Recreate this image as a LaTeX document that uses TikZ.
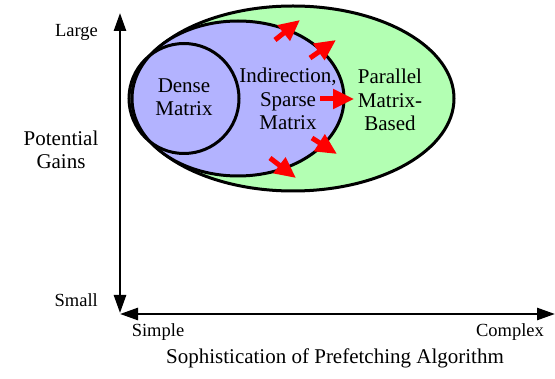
\documentclass[tikz,border=0pt]{standalone}
\usepackage{fontspec}
\setmainfont{Liberation Serif}
\newfontfamily\timesfont{Liberation Serif}
\usetikzlibrary{arrows.meta,shapes.geometric}
\definecolor{setgreen}{HTML}{B3FFB3}
\definecolor{setblue}{HTML}{B3B3FF}
\tikzset{
  region/.style={draw=black, line width=3pt},
  axis/.style={line width=2.6pt, {Triangle[length=18pt,width=12pt]}-{Triangle[length=18pt,width=12pt]}},
  growarrow/.style={draw=red, line width=5pt, -{Triangle[length=21pt,width=19pt]}, red},
  biglabel/.style={align=center, font=\timesfont\fontsize{21}{23.5}\selectfont, inner sep=0pt},
  smalllabel/.style={font=\timesfont\fontsize{18.5}{21}\selectfont, inner sep=0pt},
}
\begin{document}
\begin{tikzpicture}[x=1pt, y=-1pt]
\useasboundingbox (0,0) rectangle (555,379);

% nested regions
\fill[setgreen] (293,98.5) ellipse[x radius=161, y radius=92.5];
\draw[region] (293,98.5) ellipse[x radius=161, y radius=92.5];
\fill[setblue] (238,98.5) ellipse[x radius=106, y radius=77.5];
\draw[region] (238,98.5) ellipse[x radius=106, y radius=77.5];
\draw[region] (184,98.5) circle[radius=55];

\node[biglabel] (dense) at (184,97) {Dense\\Matrix};
\node[biglabel] (sparse) at (288,99) {Indirection,\\Sparse\\Matrix};
\node[biglabel] (parallel) at (390,100) {Parallel\\Matrix-\\Based};

% outward growth arrows
\coordinate (a1s) at (275,40);  \coordinate (a1e) at (300,20);
\coordinate (a2s) at (310,58);  \coordinate (a2e) at (336,40);
\coordinate (a3s) at (320,99);  \coordinate (a3e) at (354,99);
\coordinate (a4s) at (312,138); \coordinate (a4e) at (337,154);
\coordinate (a5s) at (270,158); \coordinate (a5e) at (296,178);
\draw[growarrow] (a1s) -- (a1e);
\draw[growarrow] (a2s) -- (a2e);
\draw[growarrow] (a3s) -- (a3e);
\draw[growarrow] (a4s) -- (a4e);
\draw[growarrow] (a5s) -- (a5e);

% axes
\coordinate (ytop) at (120,13);
\coordinate (ybot) at (120,313);
\coordinate (xleft) at (120,314);
\coordinate (xright) at (555,314);
\draw[axis] (ybot) -- (ytop);
\draw[axis] (xleft) -- (xright);

\node[smalllabel, anchor=east] (large) at (98,32) {Large};
\node[smalllabel, anchor=east] (small) at (98,300) {Small};
\node[biglabel] (gains) at (61,150) {Potential\\Gains};
\node[smalllabel] (simple) at (158,332) {Simple};
\node[smalllabel] (complex) at (510,332) {Complex};
\node[biglabel] (title) at (335,358) {Sophistication of Prefetching Algorithm};
\end{tikzpicture}
\end{document}
